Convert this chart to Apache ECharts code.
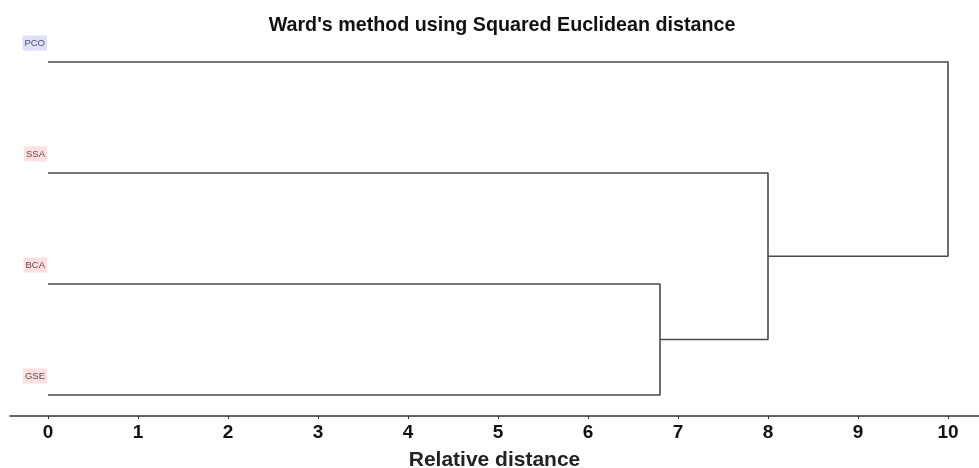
<!DOCTYPE html>
<html>
<head>
<meta charset="utf-8">
<script src="https://cdn.jsdelivr.net/npm/echarts@6/dist/echarts.min.js"></script>
<style>html,body{margin:0;padding:0;background:#fff}#c{width:979px;height:468px}</style>
</head>
<body>
<div id="c"></div>
<script>
// Leaves, top to bottom
const leaves = ['PCO', 'SSA', 'BCA', 'GSE'];
const leafGroup = ['blue', 'red', 'red', 'red'];
// Merges: [childA, childB, height]; children are leaf names or merge ids ('m0', 'm1', ...)
const mergeA = ['BCA', 'SSA', 'PCO'];
const mergeB = ['GSE', 'm0', 'm1'];
const mergeHeight = [6.8, 8.0, 10.0];
const xTicks = [0, 1, 2, 3, 4, 5, 6, 7, 8, 9, 10];

const nodes = {};
leaves.forEach((n, i) => { nodes[n] = { x: 0, y: leaves.length - 1 - i }; });
mergeHeight.forEach((h, i) => {
  const a = nodes[mergeA[i]], b = nodes[mergeB[i]];
  nodes['m' + i] = { x: h, y: (a.y + b.y) / 2 };
});

const lineColor = '#4a4a4a';
const series = [];
mergeHeight.forEach((h, i) => {
  const a = nodes[mergeA[i]], b = nodes[mergeB[i]];
  series.push({
    type: 'line', clip: false, symbol: 'none', silent: true,
    lineStyle: { color: lineColor, width: 1.6 },
    data: [[a.x, a.y], [h, a.y], [h, b.y], [b.x, b.y]]
  });
});
series.push({
  type: 'scatter', symbolSize: 0, clip: false, silent: true,
  data: leaves.map((n, i) => ({
    value: [0, nodes[n].y],
    label: {
      show: true, formatter: n, position: 'left', distance: 1, offset: [0, -19],
      fontSize: 9.5, color: '#2a2a2a', fontFamily: 'Liberation Sans',
      padding: [3, 2, 2, 2],
      backgroundColor: leafGroup[i] === 'blue' ? '#d6d6ff' : '#ffd6da'
    }
  }))
});

const chart = echarts.init(document.getElementById('c'));
chart.setOption({
  animation: false,
  title: {
    text: "Ward's method using Squared Euclidean distance",
    left: 497, textAlign: 'center', top: 11,
    textStyle: { fontSize: 19.7, fontWeight: 'bold', color: '#111', fontFamily: 'Liberation Sans' }
  },
  grid: { left: 10, right: 0, top: 62, bottom: 52, outerBoundsMode: 'none', containLabel: false },
  xAxis: {
    type: 'value', min: -38 / 90, max: 10 + 31 / 90,
    splitLine: { show: false },
    axisLine: { show: true, onZero: false, lineStyle: { color: '#333', width: 1.5 } },
    axisTick: { show: true, customValues: xTicks, length: 3, lineStyle: { color: '#333' } },
    axisLabel: {
      customValues: xTicks, margin: 7, fontSize: 19, fontWeight: 'bold', color: '#111',
      fontFamily: 'Liberation Sans'
    },
    name: 'Relative distance', nameLocation: 'middle', nameGap: 34,
    nameTextStyle: { fontSize: 21, fontWeight: 'bold', color: '#222', fontFamily: 'Liberation Sans' }
  },
  yAxis: {
    type: 'value', min: -21 / 111, max: 3, show: false,
    splitLine: { show: false }
  },
  series: series
});
</script>
</body>
</html>
